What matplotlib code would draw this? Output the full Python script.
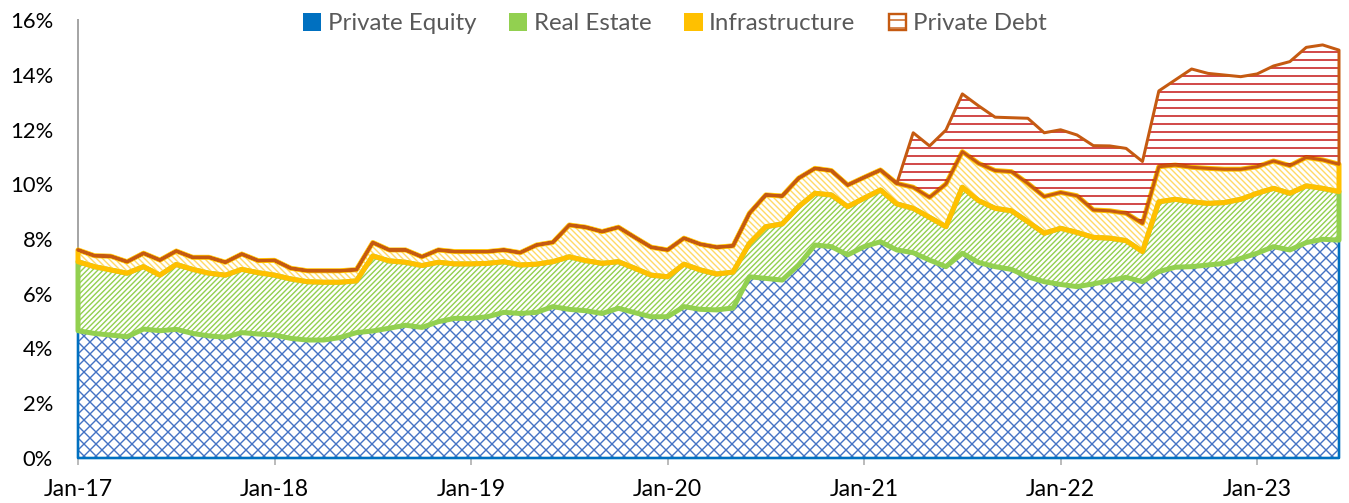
import numpy as np
import matplotlib
matplotlib.use('Agg')
import matplotlib.pyplot as plt
import matplotlib.ticker as mtick
from matplotlib.patches import Patch

plt.rcParams['font.family'] = ['Lato', 'DejaVu Sans']
plt.rcParams['hatch.linewidth'] = 0.7

# monthly, Jan-17 .. Jun-23 (% of portfolio)
months = np.arange(78)
tick_pos = [0, 12, 24, 36, 48, 60, 72]
tick_labels = ['Jan-17', 'Jan-18', 'Jan-19', 'Jan-20', 'Jan-21', 'Jan-22', 'Jan-23']

private_equity = [
    4.65, 4.55, 4.49, 4.43, 4.71, 4.65, 4.70, 4.55, 4.46, 4.41, 4.58, 4.53,
    4.49, 4.37, 4.31, 4.31, 4.40, 4.58, 4.64, 4.74, 4.85, 4.77, 4.98, 5.10,
    5.10, 5.16, 5.32, 5.28, 5.32, 5.53, 5.43, 5.38, 5.28, 5.47, 5.31, 5.16,
    5.16, 5.53, 5.43, 5.41, 5.48, 6.62, 6.56, 6.50, 7.05, 7.78, 7.72, 7.42,
    7.72, 7.90, 7.60, 7.50, 7.23, 6.99, 7.48, 7.14, 6.99, 6.89, 6.62, 6.44,
    6.34, 6.26, 6.36, 6.48, 6.60, 6.44, 6.81, 6.97, 6.99, 7.05, 7.11, 7.29,
    7.48, 7.72, 7.60, 7.87, 7.99, 7.96]
real_estate = [
    2.52, 2.44, 2.38, 2.32, 2.28, 2.03, 2.37, 2.34, 2.29, 2.27, 2.31, 2.24,
    2.19, 2.17, 2.13, 2.11, 2.02, 1.89, 2.74, 2.46, 2.30, 2.26, 2.17, 1.99,
    1.99, 1.95, 1.85, 1.77, 1.76, 1.64, 1.92, 1.83, 1.83, 1.70, 1.62, 1.52,
    1.46, 1.55, 1.44, 1.31, 1.31, 1.22, 1.89, 2.05, 2.13, 1.89, 1.89, 1.76,
    1.77, 1.89, 1.68, 1.62, 1.56, 1.46, 2.41, 2.26, 2.13, 2.14, 2.01, 1.77,
    2.05, 1.98, 1.70, 1.55, 1.34, 1.10, 2.55, 2.48, 2.37, 2.25, 2.22, 2.16,
    2.19, 2.13, 2.07, 2.07, 1.86, 1.77]
infrastructure = [
    0.43, 0.40, 0.50, 0.42, 0.49, 0.55, 0.49, 0.44, 0.58, 0.47, 0.56, 0.44,
    0.54, 0.39, 0.40, 0.42, 0.42, 0.41, 0.49, 0.40, 0.45, 0.32, 0.45, 0.45,
    0.45, 0.43, 0.43, 0.45, 0.70, 0.71, 1.16, 1.22, 1.16, 1.26, 1.13, 1.02,
    0.98, 0.95, 0.94, 0.98, 0.96, 1.10, 1.16, 1.02, 1.04, 0.91, 0.89, 0.79,
    0.76, 0.73, 0.75, 0.77, 0.73, 1.56, 1.30, 1.36, 1.38, 1.43, 1.40, 1.34,
    1.31, 1.34, 1.00, 1.00, 1.00, 1.03, 1.28, 1.25, 1.26, 1.28, 1.22, 1.10,
    0.97, 1.00, 1.01, 1.04, 1.04, 1.00]
private_debt = [
    0.00, 0.00, 0.00, 0.00, 0.00, 0.00, 0.00, 0.00, 0.00, 0.00, 0.00, 0.00,
    0.00, 0.00, 0.00, 0.00, 0.00, 0.00, 0.00, 0.00, 0.00, 0.00, 0.00, 0.00,
    0.00, 0.00, 0.00, 0.00, 0.00, 0.00, 0.00, 0.00, 0.00, 0.00, 0.00, 0.00,
    0.00, 0.00, 0.00, 0.00, 0.00, 0.00, 0.00, 0.00, 0.00, 0.00, 0.00, 0.00,
    0.00, 0.00, 0.00, 1.99, 1.88, 1.97, 2.11, 2.10, 1.95, 1.97, 2.38, 2.33,
    2.29, 2.22, 2.35, 2.37, 2.37, 2.26, 2.77, 3.11, 3.59, 3.47, 3.44, 3.38,
    3.39, 3.47, 3.80, 4.02, 4.20, 4.17]

# name, values, hatch colour, border colour, hatch, border width
layers = [
    ('Private Equity', private_equity, '#4472C4', '#0070C0', 'xxxx', 1.3),
    ('Real Estate', real_estate, '#92D050', '#92D050', '/' * 9, 2.5),
    ('Infrastructure', infrastructure, '#FFD966', '#FFC000', '\\' * 8, 2.5),
    ('Private Debt', private_debt, '#C00000', '#C55A11', '---', 1.5),
]

fig = plt.figure(figsize=(1349 / 144, 503 / 144), dpi=144)
ax = fig.add_axes([78 / 1349, 45 / 503, 1261 / 1349, 438 / 503])

base = np.zeros(len(months))
for i, (name, vals, hatch_c, edge_c, hatch, lw) in enumerate(layers):
    top = base + np.array(vals)
    ax.fill_between(months, base, top, facecolor='none', edgecolor=hatch_c,
                    hatch=hatch, linewidth=0, zorder=3 + 2 * i)
    ax.fill_between(months, base, top, facecolor='none', edgecolor=edge_c,
                    linewidth=lw, joinstyle='round', clip_on=False, zorder=4 + 2 * i)
    base = top

ax.set_xlim(0, 77)
ax.set_ylim(0, 16)
ax.set_yticks(np.arange(0, 17, 2))
ax.yaxis.set_major_formatter(mtick.PercentFormatter(decimals=0))
ax.set_xticks(tick_pos)
ax.set_xticklabels(tick_labels)

for s in ['top', 'right']:
    ax.spines[s].set_visible(False)
ax.spines['left'].set_color('#A6A6A6')
ax.spines['left'].set_linewidth(1.0)
ax.spines['bottom'].set_color('#A6A6A6')
ax.spines['bottom'].set_linewidth(1.0)

ax.tick_params(axis='y', length=0, pad=12.5, labelsize=11, labelcolor='black')
ax.tick_params(axis='x', direction='out', length=3.5, width=0.75, color='#A6A6A6',
               pad=7, labelsize=11.5, labelcolor='black')

handles = [
    Patch(facecolor='#0070C0', edgecolor='#0070C0'),
    Patch(facecolor='#92D050', edgecolor='#92D050'),
    Patch(facecolor='#FFC000', edgecolor='#FFC000'),
    Patch(facecolor='white', edgecolor='#C55A11', hatch='---', linewidth=1.2),
]
fig.legend(handles, [l[0] for l in layers], loc='center',
           bbox_to_anchor=(675 / 1349, 1 - 24 / 503), ncol=4, frameon=False,
           fontsize=12, handlelength=0.7, handleheight=0.7, handletextpad=0.3,
           columnspacing=1.4, labelcolor='#595959')

fig.savefig('out.png', dpi=144)
